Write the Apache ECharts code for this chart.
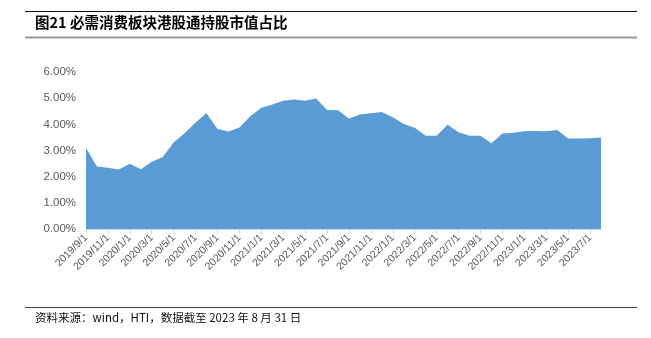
<!DOCTYPE html>
<html>
<head>
<meta charset="utf-8">
<script src="https://cdn.jsdelivr.net/npm/echarts@6/dist/echarts.min.js"></script>
<style>
html,body{margin:0;padding:0;background:#fff;}
#c{width:651px;height:338px;}
</style>
</head>
<body>
<div id="c"></div>
<script>
const titleText = '图21 必需消费板块港股通持股市值占比';
const sourceText = '资料来源：wind，HTI，数据截至 2023 年 8 月 31 日';
const categories = [
 '2019/9/1','2019/10/1','2019/11/1','2019/12/1',
 '2020/1/1','2020/2/1','2020/3/1','2020/4/1','2020/5/1','2020/6/1','2020/7/1','2020/8/1','2020/9/1','2020/10/1','2020/11/1','2020/12/1',
 '2021/1/1','2021/2/1','2021/3/1','2021/4/1','2021/5/1','2021/6/1','2021/7/1','2021/8/1','2021/9/1','2021/10/1','2021/11/1','2021/12/1',
 '2022/1/1','2022/2/1','2022/3/1','2022/4/1','2022/5/1','2022/6/1','2022/7/1','2022/8/1','2022/9/1','2022/10/1','2022/11/1','2022/12/1',
 '2023/1/1','2023/2/1','2023/3/1','2023/4/1','2023/5/1','2023/6/1','2023/7/1','2023/8/1'
];
const shareValues = [
 3.10,2.39,2.34,2.27,
 2.49,2.28,2.57,2.75,3.31,3.66,4.07,4.42,3.82,3.73,3.88,4.31,
 4.63,4.76,4.90,4.95,4.90,4.99,4.55,4.54,4.22,4.38,4.42,4.47,
 4.27,4.01,3.87,3.56,3.56,3.98,3.70,3.56,3.56,3.28,3.65,3.68,
 3.74,3.75,3.74,3.78,3.46,3.46,3.47,3.50
];
const yTicks = [0,1,2,3,4,5,6];

const chart = echarts.init(document.getElementById('c'), null, {renderer:'canvas'});
chart.setOption({
  animation:false,
  backgroundColor:'#fff',
  grid:{left:86,right:50,top:72,bottom:109,containLabel:false},
  xAxis:{
    type:'category',
    data:categories,
    boundaryGap:false,
    axisLine:{lineStyle:{color:'#d9d9d9',width:1}},
    axisTick:{interval:1,length:5,lineStyle:{color:'#d9d9d9'}},
    axisLabel:{interval:1,rotate:45,color:'#595959',fontSize:10.5,fontFamily:'Liberation Sans, Arial, sans-serif',margin:7}
  },
  yAxis:{
    type:'value',
    min:yTicks[0],max:yTicks[yTicks.length-1],interval:1,
    axisLine:{show:false},axisTick:{show:false},
    splitLine:{show:false},
    axisLabel:{color:'#595959',fontSize:11.5,fontFamily:'Liberation Sans, Arial, sans-serif',margin:10,
      formatter:v=>v.toFixed(2)+'%'}
  },
  series:[{
    type:'line',
    data:shareValues,
    symbol:'none',
    lineStyle:{width:0},
    areaStyle:{color:'#5b9bd5',opacity:1},
    z:1
  }],
  graphic:[
    {type:'line',shape:{x1:25,y1:11.5,x2:637,y2:11.5},style:{stroke:'#111',lineWidth:1}},
    {type:'line',shape:{x1:25,y1:37.5,x2:637,y2:37.5},style:{stroke:'#999',lineWidth:2}},
    {type:'text',left:35,top:15,style:{text:titleText,font:'bold 14.5px "Noto Sans CJK SC", sans-serif',fill:'#000'}},
    {type:'line',shape:{x1:25,y1:307.5,x2:637,y2:307.5},style:{stroke:'#444',lineWidth:1}},
    {type:'text',left:35,top:312,style:{text:sourceText,font:'11.5px "Noto Sans CJK SC", sans-serif',fill:'#111'}}
  ]
});
</script>
</body>
</html>
